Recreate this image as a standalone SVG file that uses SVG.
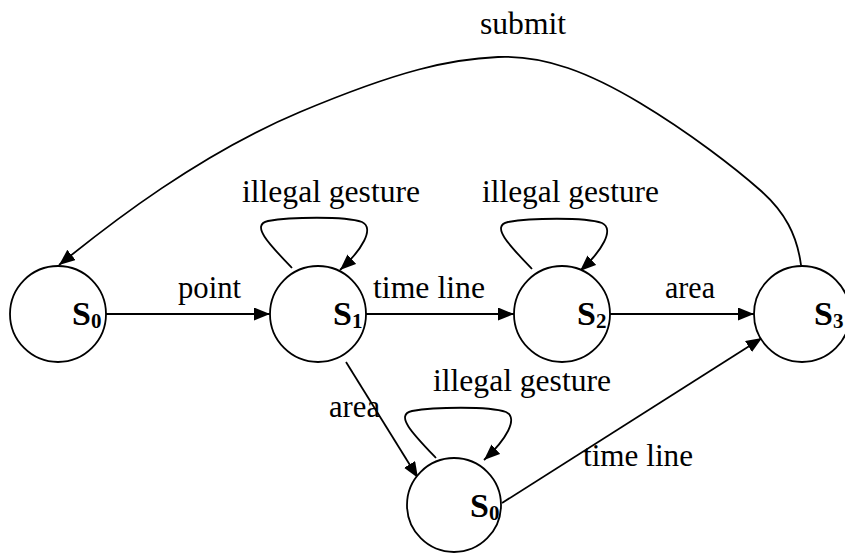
<svg xmlns="http://www.w3.org/2000/svg" width="845" height="554" viewBox="0 0 845 554">
<defs>
<style>
.node{fill:#fff;stroke:#000;stroke-width:1.8}
.edge{fill:none;stroke:#000;stroke-width:1.8;marker-end:url(#arr)}
.lbl{font-family:"Liberation Serif","Times New Roman",serif;font-size:32px;fill:#000}
.st{font-family:"Liberation Serif","Times New Roman",serif;font-size:34px;font-weight:bold;fill:#000}
.sub{font-size:21px}
</style>
<marker id="arr" markerUnits="userSpaceOnUse" markerWidth="17" markerHeight="14" refX="16" refY="6.5" orient="auto">
<path d="M0,0 L16,6.5 L0,13 z" fill="#000"/>
</marker>
</defs>
<rect width="845" height="554" fill="#fff"/>
<g id="connectors">
<line class="edge" x1="106" y1="314" x2="270" y2="314"/>
<line class="edge" x1="366" y1="314" x2="514" y2="314"/>
<line class="edge" x1="610" y1="314" x2="754" y2="314"/>
<line class="edge" x1="346" y1="362" x2="418" y2="478"/>
<line class="edge" x1="502" y1="503" x2="762" y2="338"/>
<path class="edge" d="M801,265 C797,235 785,212 760,190 S690,133 640,103 S545,55 498,57 S400,70 300,112 S112,222 59,265"/>
<path class="edge" d="M292,268 C270,245 250,225 268,221 C290,217 345,216 362,222 C375,228 362,250 340,270"/>
<path class="edge" transform="translate(240,1)" d="M292,268 C270,245 250,225 268,221 C290,217 345,216 362,222 C375,228 362,250 340,270"/>
<path class="edge" transform="translate(144,190)" d="M292,268 C270,245 250,225 268,221 C290,217 345,216 362,222 C375,228 362,250 340,270"/>
</g>
<g id="labels">
<text class="lbl" x="480" y="34" textLength="86" lengthAdjust="spacingAndGlyphs">submit</text>
<text class="lbl" x="242" y="202" textLength="178" lengthAdjust="spacingAndGlyphs">illegal gesture</text>
<text class="lbl" x="482" y="202" textLength="177" lengthAdjust="spacingAndGlyphs">illegal gesture</text>
<text class="lbl" x="433" y="391" textLength="178" lengthAdjust="spacingAndGlyphs">illegal gesture</text>
<text class="lbl" x="178" y="298" textLength="63" lengthAdjust="spacingAndGlyphs">point</text>
<text class="lbl" x="373" y="298" textLength="112" lengthAdjust="spacingAndGlyphs">time line</text>
<text class="lbl" x="665" y="298" textLength="50" lengthAdjust="spacingAndGlyphs">area</text>
<text class="lbl" x="329" y="417" textLength="51" lengthAdjust="spacingAndGlyphs">area</text>
<text class="lbl" x="583" y="466" textLength="110" lengthAdjust="spacingAndGlyphs">time line</text>
</g>
<g id="S0">
<circle class="node" cx="58" cy="314" r="48"/>
<text class="st" x="72" y="325">S<tspan class="sub" dy="3">0</tspan></text>
</g>
<g id="S1">
<circle class="node" cx="318" cy="314" r="48"/>
<text class="st" x="333" y="325">S<tspan class="sub" dy="3">1</tspan></text>
</g>
<g id="S2">
<circle class="node" cx="562" cy="314" r="48"/>
<text class="st" x="577" y="325">S<tspan class="sub" dy="3">2</tspan></text>
</g>
<g id="S3">
<circle class="node" cx="802" cy="314" r="48"/>
<text class="st" x="814" y="325">S<tspan class="sub" dy="3">3</tspan></text>
</g>
<g id="S0b">
<circle class="node" cx="454" cy="505" r="47"/>
<text class="st" x="470" y="517">S<tspan class="sub" dy="3">0</tspan></text>
</g>
</svg>
